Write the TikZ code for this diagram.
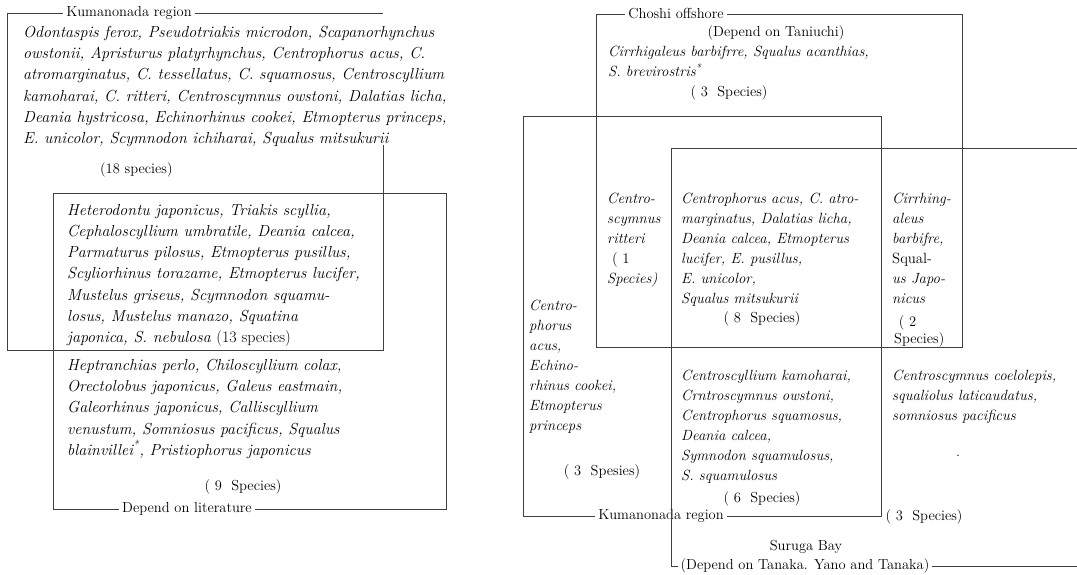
\documentclass[tikz,border=0pt]{standalone}
\usepackage{tikz}

\begin{document}
\begin{tikzpicture}[x=1pt, y=-1pt,
	region/.style={draw=black!75, line width=0.8pt},
	tag/.style={fill=white, inner xsep=3pt, inner ysep=1pt,
				font=\fontsize{14.5}{16}\selectfont},
	spl/.style={anchor=north west, inner sep=0pt, align=left,
				font=\itshape\fontsize{16}{21.2}\selectfont},
	spr/.style={anchor=north west, inner sep=0pt, align=left,
				font=\itshape\fontsize{14.8}{19.9}\selectfont},
	tally/.style={inner sep=0pt, font=\fontsize{14.5}{16}\selectfont}
]
	\useasboundingbox (0,0) rectangle (1077,575);

	% left panel
	\draw[region] (383,145) -- (383,350) -- (7,350) -- (7,13) -- (383,13);
	\draw[region] (53,193) rectangle (446,509);
	\node (kumaL) [tag] at (129,13) {Kumanonada region};
	\node (lit) [tag] at (187,509) {Depend on literature};

	\node (kumaOnly) [spl] at (23,26) {Odontaspis ferox, Pseudotriakis microdon, Scapanorhynchus\\
		owstonii, Apristurus platyrhynchus, Centrophorus acus, C.\\
		atromarginatus, C. tessellatus, C. squamosus, Centroscyllium\\
		kamoharai, C. ritteri, Centroscymnus owstoni, Dalatias licha,\\
		Deania hystricosa, Echinorhinus cookei, Etmopterus princeps,\\
		E. unicolor, Scymnodon ichiharai, Squalus mitsukurii};
	\node (kumaN) [tally, anchor=west] at (100,170) {(18 species)};

	\node (both) [spl] at (67,204) {Heterodontu japonicus, Triakis scyllia,\\
		Cephaloscyllium umbratile, Deania calcea,\\
		Parmaturus pilosus, Etmopterus pusillus,\\
		Scyliorhinus torazame, Etmopterus lucifer,\\
		Mustelus griseus, Scymnodon squamu-\\
		losus, Mustelus manazo, Squatina\\
		japonica, S. nebulosa {\upshape (13 species)}};

	\node (litOnly) [spl] at (67,359) {Heptranchias perlo, Chiloscyllium colax,\\
		Orectolobus japonicus, Galeus eastmain,\\
		Galeorhinus japonicus, Calliscyllium\\
		venustum, Somniosus pacificus, Squalus\\
		blainvillei\textsuperscript{*}, Pristiophorus japonicus};
	\node (litN) [tally] at (243,487) {( 9 \ Species)};

	% right panel
	\draw[region] (596,14) rectangle (962,347);
	\draw[region] (523,116) rectangle (881,516);
	\node (kumaR) [tag] at (661,516) {Kumanonada region};
	\draw[region] (1077,148) -- (671,148) -- (671,566) -- (1077,566);
	\node (choshi) [tag] at (676,14) {Choshi offshore};
	\node (tanaka) [tag] at (805,566) {(Depend on Tanaka. Yano and Tanaka)};
	\node (suruga) [tally] at (806,547) {Suruga Bay};

	\node (taniuchi) [tally] at (776,33) {(Depend on Taniuchi)};
	\node (choshiOnly) [spr] at (608,46) {Cirrhigaleus barbifrre, Squalus acanthias,\\
		S. brevirostris\textsuperscript{*}};
	\node (choshiN) [tally] at (729,93) {( 3 \ Species)};

	\node (ck) [spr] at (607,193) {Centro-\\scymnus\\ritteri\\{\upshape\ ( 1}\\Species)};
	\node (cks) [spr] at (681,193) {Centrophorus acus, C. atro-\\
		marginatus, Dalatias licha,\\
		Deania calcea, Etmopterus\\
		lucifer, E. pusillus,\\
		E. unicolor,\\
		Squalus mitsukurii};
	\node (cksN) [tally] at (762,319) {( 8 \ Species)};
	\node (cs) [spr] at (892,193) {Cirrhing-\\aleus\\barbifre,\\{\upshape Squal-}\\us Japo-\\nicus};
	\node (csN) [tally, align=left, anchor=north west] at (894,315) {\ ( 2\\[1pt]Species)};

	\node (kOnly) [spr] at (529,300) {Centro-\\phorus\\acus,\\Echino-\\rhinus cookei,\\Etmopterus\\princeps};
	\node (kOnlyN) [tally] at (602,472) {( 3 \ Spesies)};

	\node (ks) [spr] at (681,370) {Centroscyllium kamoharai,\\
		Crntroscymnus owstoni,\\
		Centrophorus squamosus,\\
		Deania calcea,\\
		Symnodon squamulosus,\\
		S. squamulosus};
	\node (ksN) [tally] at (762,499) {( 6 \ Species)};

	\node (sOnly) [spr] at (892,370) {Centroscymnus coelolepis,\\
		squaliolus laticaudatus,\\
		somniosus pacificus};
	\node (dot) [tally] at (958,456) {.};
	\node (sN) [tally] at (924,517) {( 3 \ Species)};
\end{tikzpicture}
\end{document}
